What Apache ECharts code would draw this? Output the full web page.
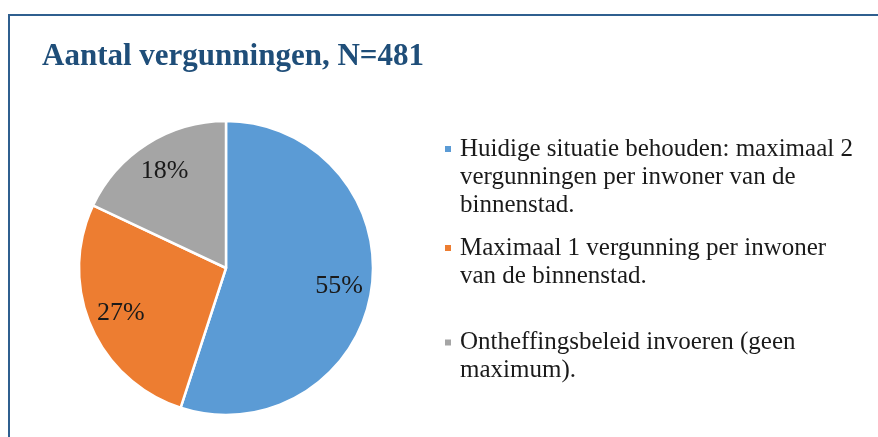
<!DOCTYPE html>
<html>
<head>
<meta charset="utf-8">
<script src="https://cdn.jsdelivr.net/npm/echarts@6/dist/echarts.min.js"></script>
<style>
html,body{margin:0;padding:0;background:#fff;}
#chart{width:878px;height:437px;}
</style>
</head>
<body>
<div id="chart"></div>
<script>
var titleText = 'Aantal vergunningen, N=481';
var categories = [
  'Huidige situatie behouden: maximaal 2 vergunningen per inwoner van de binnenstad.',
  'Maximaal 1 vergunning per inwoner van de binnenstad.',
  'Ontheffingsbeleid invoeren (geen maximum).'
];
var legendLines = [
  ['Huidige situatie behouden: maximaal 2', 'vergunningen per inwoner van de', 'binnenstad.'],
  ['Maximaal 1 vergunning per inwoner', 'van de binnenstad.'],
  ['Ontheffingsbeleid invoeren (geen', 'maximum).']
];
var values = [55, 27, 18];
var colors = ['#5B9BD5', '#ED7D31', '#A5A5A5'];

var FONT = '"Liberation Serif", serif';
var LH = 28.3;
var iconCenters = [149, 248, 342.5];

var data = categories.map(function (c, i) {
  return { name: c, value: values[i], itemStyle: { color: colors[i] } };
});

var legends = categories.map(function (c, i) {
  var n = legendLines[i].length;
  var H = (2 * n - 1) * LH;
  return {
    orient: 'vertical',
    left: 443,
    top: iconCenters[i] - H / 2,
    padding: 0,
    itemWidth: 8,
    itemHeight: 8,
    icon: 'rect',
    selectedMode: false,
    data: [{ name: c, itemStyle: { color: colors[i] } }],
    formatter: function (name) {
      var lines = legendLines[categories.indexOf(name)];
      var pad = [];
      for (var k = 0; k < lines.length - 1; k++) pad.push(' ');
      return pad.concat(lines).join('\n');
    },
    textStyle: {
      fontFamily: FONT,
      fontSize: 25,
      color: '#1a1a1a',
      lineHeight: LH,
      padding: [0, 0, 0, 3]
    }
  };
});

var chart = echarts.init(document.getElementById('chart'));
chart.setOption({
  animation: false,
  backgroundColor: '#ffffff',
  title: {
    text: titleText,
    left: 42,
    top: 41,
    padding: 0,
    textStyle: {
      fontFamily: FONT,
      fontSize: 31,
      fontWeight: 'bold',
      color: '#1F4E79'
    }
  },
  graphic: [{
    type: 'rect',
    shape: { x: 9, y: 15, width: 900, height: 500 },
    style: { fill: 'none', stroke: '#2F5F8F', lineWidth: 2 },
    silent: true
  }],
  legend: legends,
  series: [{
    type: 'pie',
    center: [226, 268],
    radius: [0, 147],
    startAngle: 90,
    clockwise: true,
    label: { show: false },
    labelLine: { show: false },
    itemStyle: { borderColor: '#ffffff', borderWidth: 2.5 },
    emphasis: { disabled: true },
    data: data
  }, {
    type: 'pie',
    center: [226, 268],
    radius: [76, 147],
    startAngle: 90,
    clockwise: true,
    silent: true,
    itemStyle: { color: 'rgba(0,0,0,0)', borderWidth: 0 },
    label: {
      show: true,
      position: 'inside',
      formatter: function (p) { return p.value + '%'; },
      fontFamily: FONT,
      fontSize: 26,
      color: '#1a1a1a'
    },
    labelLine: { show: false },
    emphasis: { disabled: true },
    data: categories.map(function (c, i) { return { name: c, value: values[i] }; })
  }]
});
</script>
</body>
</html>
